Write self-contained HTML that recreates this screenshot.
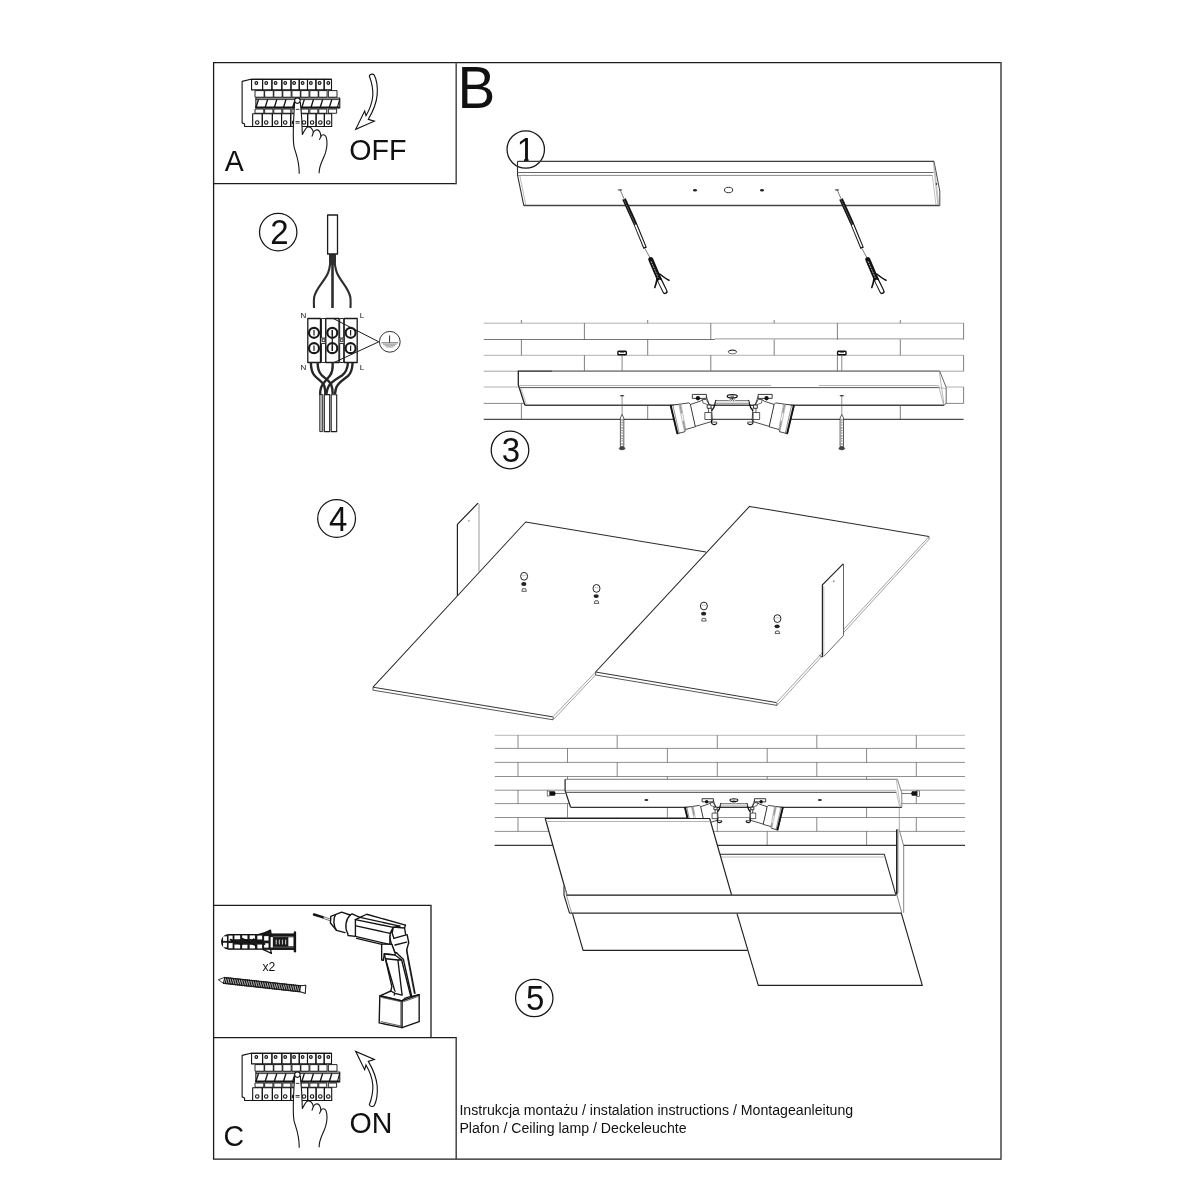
<!DOCTYPE html>
<html lang="pl"><head><meta charset="utf-8"><title>Instrukcja montażu</title>
<style>
html,body{margin:0;padding:0;background:#fff;}
body{width:1200px;height:1200px;overflow:hidden;font-family:"Liberation Sans",sans-serif;}
svg{display:block;position:absolute;left:0;top:0;will-change:transform;}
svg text{font-family:"Liberation Sans",sans-serif;fill:#111;}
#spotL *{vector-effect:non-scaling-stroke;}
</style></head><body>
<svg width="1200" height="1200" viewBox="0 0 1200 1200">
<!-- 00_frame.svg -->
<g id="frame" fill="none" stroke="#1c1c1c" stroke-width="1.3">
<path d="M1001 62.6H213.6V1159.2H1001"/>
<path d="M1001 62V1159.8" stroke="#505050" stroke-width="1.6"/>
<path d="M213.6 183.7H456.2"/>
<path d="M456.2 62.6V184.3" stroke="#555" stroke-width="1.6"/>
<path d="M213.6 905.3H431V1037.7"/>
<path d="M213.6 1037.7H456.2"/>
<path d="M456.2 1037.1V1159.2" stroke="#444" stroke-width="1.5"/>
</g>
<g id="labels">
<text transform="translate(457.6 108) scale(1 1.04)" font-size="56.6">B</text>
<text transform="translate(224.7 171.2) scale(1 1.04)" font-size="28.5">A</text>
<text transform="translate(349.3 159.5) scale(1 1.06)" font-size="28.6">OFF</text>
<text transform="translate(223.4 1146) scale(1 1.04)" font-size="28.5">C</text>
<text transform="translate(349.6 1132.7) scale(1 1.06)" font-size="28.6">ON</text>
<text transform="translate(262.4 970.5) scale(1 1.04)" font-size="12.2">x2</text>
<text transform="translate(459.4 1114.7) scale(1 1.02)" font-size="14.15">Instrukcja montażu / instalation instructions / Montageanleitung</text>
<text transform="translate(459.4 1133.3) scale(1 1.02)" font-size="14.15">Plafon / Ceiling lamp / Deckeleuchte</text>
</g>
<g id="steps" fill="none" stroke="#161616" stroke-width="1.25">
<circle cx="525.75" cy="149.5" r="18.7"/>
<circle cx="278.2" cy="232.1" r="18.7"/>
<circle cx="510" cy="450" r="18.8"/>
<circle cx="336.6" cy="518.5" r="18.9"/>
<circle cx="534.25" cy="998" r="18.7"/>
</g>
<g id="stepnums" font-size="33" text-anchor="middle">
<clipPath id="c1"><path d="M500 120H550V157.9H528.6V166H524V157.9H500Z"/></clipPath><g clip-path="url(#c1)"><text transform="translate(525.9 161.6) scale(1 1.04)">1</text></g>
<text transform="translate(279.5 243.75) scale(1 1.04)">2</text>
<text transform="translate(511 462.4) scale(1 1.04)">3</text>
<text transform="translate(338.25 530.5) scale(1 1.04)">4</text>
<text transform="translate(535.25 1010.2) scale(1 1.04)">5</text>
</g>

<!-- 10_breaker.svg -->
<defs><g id="brk" transform="translate(238 72) scale(0.09167)" fill="none" stroke="#141414" stroke-width="12" stroke-linejoin="round" stroke-linecap="round">
<path d="M140 80L45 102V555L72 567V595H1022M140 80H1020" />
<rect x="148" y="80" width="120" height="115"/>
<rect x="268" y="80" width="102" height="115"/>
<rect x="370" y="80" width="108" height="115"/>
<rect x="478" y="80" width="100" height="115"/>
<rect x="578" y="80" width="90" height="115"/>
<rect x="668" y="80" width="90" height="115"/>
<rect x="758" y="80" width="92" height="115"/>
<rect x="850" y="80" width="90" height="115"/>
<rect x="940" y="80" width="80" height="115"/>
<circle cx="200" cy="120" r="15"/>
<circle cx="308" cy="120" r="15"/>
<circle cx="410" cy="120" r="15"/>
<circle cx="515" cy="120" r="15"/>
<circle cx="612" cy="120" r="15"/>
<circle cx="705" cy="120" r="15"/>
<circle cx="795" cy="120" r="15"/>
<circle cx="890" cy="120" r="15"/>
<circle cx="985" cy="120" r="15"/>
<rect x="190" y="203" width="95" height="72" stroke-width="10"/>
<rect x="295" y="203" width="90" height="72" stroke-width="10"/>
<rect x="395" y="203" width="87" height="72" stroke-width="10"/>
<rect x="493" y="203" width="87" height="72" stroke-width="10"/>
<rect x="593" y="203" width="87" height="72" stroke-width="10"/>
<rect x="690" y="203" width="85" height="72" stroke-width="10"/>
<rect x="788" y="203" width="87" height="72" stroke-width="10"/>
<rect x="885" y="203" width="87" height="72" stroke-width="10"/>
<rect x="990" y="203" width="90" height="72" stroke-width="10"/>
<path d="M195 283H1110V392H195Z" fill="#fff"/>
<path d="M200 301H1108" stroke-width="9"/>
<path d="M195 386H1100" stroke-width="17"/>
<path d="M222 304L197 384" stroke-width="15"/>
<path d="M322 304L297 384" stroke-width="15"/>
<path d="M422 304L397 384" stroke-width="15"/>
<path d="M522 304L497 384" stroke-width="15"/>
<path d="M622 304L597 384" stroke-width="15"/>
<path d="M722 304L697 384" stroke-width="15"/>
<path d="M822 304L797 384" stroke-width="15"/>
<path d="M922 304L897 384" stroke-width="15"/>
<path d="M1022 304L997 384" stroke-width="15"/>
<path d="M1108 304L1085 384" stroke-width="12"/>
<rect x="190" y="404" width="91" height="46" stroke-width="10"/>
<rect x="295" y="404" width="86" height="46" stroke-width="10"/>
<rect x="395" y="404" width="83" height="46" stroke-width="10"/>
<rect x="493" y="404" width="83" height="46" stroke-width="10"/>
<rect x="593" y="404" width="83" height="46" stroke-width="10"/>
<rect x="690" y="404" width="81" height="46" stroke-width="10"/>
<rect x="788" y="404" width="83" height="46" stroke-width="10"/>
<rect x="885" y="404" width="83" height="46" stroke-width="10"/>
<rect x="990" y="404" width="86" height="46" stroke-width="10"/>
<rect x="160" y="455" width="105" height="140"/>
<rect x="265" y="455" width="110" height="140"/>
<rect x="375" y="455" width="100" height="140"/>
<rect x="475" y="455" width="100" height="140"/>
<rect x="575" y="455" width="93" height="140"/>
<rect x="668" y="455" width="92" height="140"/>
<rect x="760" y="455" width="92" height="140"/>
<rect x="852" y="455" width="90" height="140"/>
<rect x="942" y="455" width="80" height="140"/>
<circle cx="210" cy="550" r="19"/>
<circle cx="308" cy="550" r="19"/>
<circle cx="418" cy="550" r="19"/>
<circle cx="515" cy="550" r="19"/>
<circle cx="612" cy="550" r="19"/>
<circle cx="720" cy="550" r="19"/>
<circle cx="808" cy="550" r="19"/>
<circle cx="898" cy="550" r="19"/>
<circle cx="985" cy="550" r="19"/>
<path d="M618 330C612 420 606 520 604 620C602 700 600 760 612 820C630 890 668 960 668 1105L885 1100C885 1010 930 960 955 880C972 820 972 740 960 705C945 675 915 680 905 700C900 650 880 625 850 632C835 636 828 648 822 660C815 620 790 592 760 600C740 606 725 640 702 682C700 560 692 440 680 330Z" fill="#fff" stroke="none"/>
<path d="M618 330C612 420 606 520 604 620C602 700 600 760 612 820C630 890 668 960 668 1105"/>
<path d="M885 1100C885 1010 930 960 955 880C972 820 972 740 960 705C945 675 915 680 905 700L890 735"/>
<path d="M905 700C900 650 880 625 850 632C835 636 828 648 822 660L808 700"/>
<path d="M822 660C815 620 790 592 760 600C740 606 725 640 702 682C700 560 692 440 680 330"/>
<circle cx="648" cy="312" r="30" fill="#fff"/>
<path d="M635 408H665M632 540H668M632 558H668" stroke-width="9"/>
</g></defs>
<use href="#brk"/>
<use href="#brk" y="974"/>
<!-- 11_arrows.svg -->
<defs><path id="arw" d="M440 150C470 230 500 330 492 450C480 570 440 660 390 745L370 675L235 950L515 828L425 800C490 690 545 580 558 430C565 320 545 200 515 140C500 115 450 115 440 150Z"/></defs>
<g fill="none" stroke="#141414" stroke-width="17" stroke-linejoin="miter">
<use href="#arw" transform="translate(340 66) scale(.066667)"/>
<use href="#arw" transform="translate(340 1114.7) scale(.066667 -.066667)"/>
</g>

<!-- 20_step1.svg -->
<g id="step1" fill="none">
<!-- bar -->
<path d="M517.5 161.4H934" stroke="#3a3a3a" stroke-width="1.1"/>
<path d="M517.5 161.4V175L523.8 205.5" stroke="#2a2a2a" stroke-width="1.1"/>
<path d="M517.5 172.5H933.5" stroke="#666" stroke-width="1"/>
<path d="M518 175.4H932.5" stroke="#8a8a8a" stroke-width="1"/>
<path d="M519.8 175.6L525.8 205" stroke="#999" stroke-width=".7"/>
<path d="M523.6 205.4H939.8" stroke="#444" stroke-width="1.5"/>
<path d="M934 161.4L939.8 191V205.5" stroke="#444" stroke-width="1"/>
<path d="M933.3 162L937.8 205M932.3 175.5L936 205M934 163L938.8 205" stroke="#999" stroke-width=".6"/>
<circle cx="936.5" cy="184" r=".9" fill="#444"/>
<ellipse cx="695" cy="190.2" rx="2" ry="1.3" fill="#222"/>
<ellipse cx="762" cy="190.2" rx="2" ry="1.3" fill="#222"/>
<ellipse cx="728.6" cy="190" rx="4.1" ry="2.7" stroke="#333" stroke-width="1"/>
</g>
<defs>
<g id="scr1" transform="scale(.1)" stroke-linecap="round" stroke-linejoin="round">
<ellipse cx="150" cy="98" rx="24" ry="9" fill="#777" stroke="none"/>
<path d="M152 100L188 182" stroke="#222" stroke-width="6" fill="none"/>
<path d="M190 190L300 432" stroke="#111" stroke-width="38" stroke-linecap="butt" fill="none"/>
<path d="M186 188L296 428" stroke="#bbb" stroke-width="5" stroke-dasharray="10 14" fill="none"/>
<path d="M300 432L402 682" stroke="#111" stroke-width="36" stroke-linecap="butt" fill="none"/>
<path d="M304 446L397 670" stroke="#fff" stroke-width="16" stroke-linecap="butt" fill="none"/>
<path d="M402 690L452 782" stroke="#222" stroke-width="6" fill="none"/>
<path d="M458 795L545 1000" stroke="#111" stroke-width="50" stroke-linecap="round" fill="none"/>
<path d="M462 815L540 995" stroke="#ccc" stroke-width="8" stroke-dasharray="12 16" fill="none"/>
<path d="M545 1000L600 1115" stroke="#111" stroke-width="52" stroke-linecap="round" fill="none"/>
<path d="M548 1012L598 1112" stroke="#fff" stroke-width="30" stroke-linecap="round" fill="none"/>
<path d="M548 940C585 970 610 990 640 1002" stroke="#111" stroke-width="16" fill="none"/>
<path d="M520 990C515 1020 508 1050 498 1075" stroke="#111" stroke-width="16" fill="none"/>
</g>
</defs>
<use href="#scr1" x="605" y="180"/>
<use href="#scr1" x="822" y="180"/>

<!-- 25_step2.svg -->
<g id="step2" fill="none" stroke-linecap="butt" stroke-linejoin="round">
<path d="M330.8 254C330.6 262 330.2 268 328 273C324 282 316 288 314.2 297C313.6 301 314 305 314 308" stroke="#2e2e2e" stroke-width="2.1"/>
<path d="M334.2 254C334.4 262 334.8 268 337 273C341 282 348.5 288 350.3 297C350.9 301 350.5 305 350.5 308" stroke="#2e2e2e" stroke-width="2.1"/>
<path d="M332.5 254V308" stroke="#2e2e2e" stroke-width="2.6"/>
<path d="M329 254.5H336V262C335 266 330 266 329 262Z" fill="#2e2e2e" stroke="none"/>
<rect x="327.6" y="215" width="9.9" height="39" fill="#fff" stroke="#1c1c1c" stroke-width="1.3"/>
<g transform="translate(290 305) scale(.1)" stroke="#1a1a1a" stroke-width="13">
<rect x="315" y="135" width="40" height="195" stroke-width="9"/>
<rect x="315" y="385" width="40" height="190" stroke-width="9"/>
<rect x="321" y="340" width="28" height="26" stroke-width="9"/>
<rect x="497" y="135" width="40" height="195" stroke-width="9"/>
<rect x="497" y="385" width="40" height="190" stroke-width="9"/>
<rect x="503" y="340" width="28" height="26" stroke-width="9"/>
<rect x="178" y="135" width="127" height="440" fill="#fff"/>
<rect x="358" y="135" width="132" height="440" fill="#fff"/>
<rect x="542" y="135" width="130" height="440" fill="#fff"/>
<circle cx="240" cy="278" r="50" stroke-width="22"/>
<path d="M240 250V306" stroke-width="12"/>
<circle cx="240" cy="432" r="50" stroke-width="22"/>
<path d="M240 404V460" stroke-width="12"/>
<circle cx="423" cy="278" r="50" stroke-width="22"/>
<path d="M423 250V306" stroke-width="12"/>
<circle cx="423" cy="432" r="50" stroke-width="22"/>
<path d="M423 404V460" stroke-width="12"/>
<circle cx="606" cy="278" r="50" stroke-width="22"/>
<path d="M606 250V306" stroke-width="12"/>
<circle cx="606" cy="432" r="50" stroke-width="22"/>
<path d="M606 404V460" stroke-width="12"/>
<path d="M423 250V460" stroke-width="12"/>
<path d="M432 135L888 368L440 575" stroke-width="10"/>
<circle cx="998" cy="368" r="104" stroke-width="9" fill="#fff"/>
<path d="M996 305V376" stroke-width="9"/>
<path d="M915 378H1080" stroke="#444" stroke-width="8"/>
<path d="M930 393H1065M945 407H1050M962 420H1034" stroke="#777" stroke-width="7"/>
</g>
<path d="M310.9 362.5C310.9 368 311.5 372 314.5 375.5C318 379.5 322.5 381.5 324.3 386C325.3 389 325.4 392 325.4 394.5" stroke="#262626" stroke-width="2.4"/>
<path d="M317.6 362.5C317.6 368 318.5 372 321.5 375C325 378.5 329.5 380.5 331.3 385C332.5 388 332.7 391 332.7 394" stroke="#262626" stroke-width="2.4"/>
<path d="M332.6 362.5C333 368 332.5 372 330 375.5C327 379.5 322.5 383 320.9 388C320.2 390.5 320.1 392.5 320.1 395" stroke="#262626" stroke-width="2.4"/>
<path d="M348 362.5C347.6 368 346 372.5 342 375.5C337 379 331 381.5 328.5 386.5C327 389.5 326.6 392 326.4 394" stroke="#262626" stroke-width="2.4"/>
<path d="M352.6 362.5C352.4 368 351.5 373 348 376C343 380 338.5 382.5 336.5 387C335.5 389.5 335.2 392 335 394" stroke="#262626" stroke-width="2.4"/>
<rect x="319.8" y="394.6" width="2.9" height="37" fill="#fff" stroke="#222" stroke-width="1"/>
<path d="M321 395V431.5M322 395V431.5" stroke="#666" stroke-width=".6"/>
<rect x="324.3" y="394.6" width="5.4" height="37" fill="#fff" stroke="#1c1c1c" stroke-width="1.1"/>
<rect x="331.2" y="394.8" width="5.5" height="36.8" fill="#fff" stroke="#1c1c1c" stroke-width="1.1"/>
</g>
<g font-size="8">
<text x="300.4" y="317.8">N</text><text x="359.7" y="317.8">L</text><text x="300.4" y="370.4">N</text><text x="359.7" y="370.4">L</text>
</g>
<!-- 30_step3.svg -->
<g id="bricks3" fill="none" stroke="#8c8c8c" stroke-width=".9">
<path d="M483.7 323.2H963.6" stroke="#a8a8a8"/>
<path d="M483.7 339.5H715" stroke="#666"/><path d="M715 338.9H963.6"/>
<path d="M483.7 355.3H963.6" stroke="#a8a8a8"/>
<path d="M483.7 371.2H963.6" stroke="#9a9a9a"/>
<path d="M483.7 387.0H963.6" stroke="#a8a8a8"/>
<path d="M483.7 403.4H963.6" stroke="#7a7a7a"/>
<path d="M483.7 419.3H963.6" stroke="#4a4a4a" stroke-width="1.3"/>
<path d="M521.4 320V323.2M521.4 339.5V355.3M521.4 403.4V419.3M647.7 320V323.2M647.7 339.5V355.3M647.7 403.4V419.3M774.2 320V323.2M774.2 339.5V355.3M774.2 403.4V419.3M900.3 320V323.2M900.3 339.5V355.3M900.3 403.4V419.3M584.4 323.2V339.5M584.4 355.3V371.2M710.8 323.2V339.5M710.8 355.3V371.2M837.4 323.2V339.5M837.4 355.3V371.2M963.6 323.2V339.5M963.6 355.3V371.2M963.6 387.0V403.4" stroke="#484848" stroke-width=".7"/>
</g>
<g id="bar3" fill="none">
<path d="M518.3 371.1H939.6L946.2 387.4V403L944.2 405.3H524.9L518.3 384.7Z" fill="#fff" stroke="none"/>
<path d="M552 371.1H939.6" stroke="#6a6a6a" stroke-width="1.1"/>
<path d="M552 371.1H518.3V384.7L524.9 405.3" stroke="#222" stroke-width="1.3" stroke-linejoin="round"/>
<path d="M519.5 385.5H771M818.6 385.5H938.7" stroke="#b5b5b5" stroke-width="1"/>
<path d="M519 387.6H938.7" stroke="#555" stroke-width="1"/>
<path d="M521 388L526.5 404.5" stroke="#aaa" stroke-width=".7"/>
<path d="M524.9 405.2H944.2" stroke="#444" stroke-width="1.5"/>
<path d="M939.6 371L946.2 387.4V403L944.2 405.3" stroke="#555" stroke-width=".9"/>
<path d="M939.3 371.5L944 405M938.7 386L943.5 404.5M938.7 387.6L946 388.5" stroke="#888" stroke-width=".6"/>
</g>
<rect x="617.9" y="351.3" width="8.4" height="3.4" rx=".8" fill="#fff" stroke="#111" stroke-width="1.4"/>
<path d="M619.9 352.6h4.5" stroke="#333" stroke-width=".7"/>
<path d="M622.1 354.8V370.6" stroke="#555" stroke-width=".7"/>
<ellipse cx="622.1" cy="395.7" rx="2.3" ry=".8" fill="#333"/>
<path d="M622.1 396.4V415" stroke="#666" stroke-width=".7"/>
<path d="M622.1 414.5L623.8 418V446.6H620.4V418Z" fill="#fff" stroke="#333" stroke-width=".8"/>
<path d="M622.1 419V446" stroke="#777" stroke-width="1.6" stroke-dasharray=".7 .9"/>
<ellipse cx="622.1" cy="448.4" rx="2.9" ry="1.4" fill="#444" stroke="#222" stroke-width=".6"/>
<rect x="837.6" y="351.3" width="8.4" height="3.4" rx=".8" fill="#fff" stroke="#111" stroke-width="1.4"/>
<path d="M839.6 352.6h4.5" stroke="#333" stroke-width=".7"/>
<path d="M841.8 354.8V370.6" stroke="#555" stroke-width=".7"/>
<ellipse cx="841.8" cy="395.7" rx="2.3" ry=".8" fill="#333"/>
<path d="M841.8 396.4V415" stroke="#666" stroke-width=".7"/>
<path d="M841.8 414.5L843.5 418V446.6H840.1V418Z" fill="#fff" stroke="#333" stroke-width=".8"/>
<path d="M841.8 419V446" stroke="#777" stroke-width="1.6" stroke-dasharray=".7 .9"/>
<ellipse cx="841.8" cy="448.4" rx="2.9" ry="1.4" fill="#444" stroke="#222" stroke-width=".6"/>
<ellipse cx="732.4" cy="351.9" rx="4.3" ry="1.9" fill="none" stroke="#666" stroke-width=".9"/>
<path d="M728.3 351.5A4.3 1.9 0 0 1 736.5 351.5" fill="none" stroke="#333" stroke-width="1"/>
<!-- 31_spots.svg -->
<defs>
<g id="spotL" transform="translate(665 388) scale(.058333)" stroke="#1c1c1c" stroke-width="0.80" fill="none" stroke-linejoin="round" stroke-linecap="round">
<path d="M435 282L600 228L640 202L705 192L760 290L800 360L812 560L790 578L520 658Z" fill="#fff"/>
<path d="M95 300L410 255L435 282L520 665L350 712L340 750L210 782Z" fill="#fff"/>
<path d="M100 302L214 780" stroke-width="1.71" stroke="#111"/>
<path d="M136 298L242 773" stroke-width="0.49"/>
<path d="M238 292L336 752M276 285L356 712" stroke="#666" stroke-width="0.43"/>
<path d="M257 289L346 732" stroke="#999" stroke-width="1.47" stroke-dasharray="8 9"/>
<rect x="475" y="110" width="235" height="68" fill="#fff" stroke-width="0.86"/>
<circle cx="565" cy="176" r="37" fill="#111" stroke="none"/>
<path d="M640 202L652 258L700 274L738 292" stroke-width="0.67"/>
<path d="M710 150L762 292M747 350V420" stroke-width="0.73"/>
<rect x="730" y="292" width="58" height="56" fill="#fff" stroke-width="0.86"/>
<rect x="690" y="420" width="105" height="120" fill="#fff" stroke-width="0.73"/>
<path d="M872 215C848 270 866 330 802 384" stroke-width="1.29" stroke="#111"/>
<path d="M872 215H1095L1125 198" stroke="#444" stroke-width="0.7"/><path d="M862 265H1152" stroke="#777" stroke-width="0.7"/><path d="M880 240H1150" stroke="#ddd" stroke-width="1.4"/>
<path d="M798 545V598C806 634 880 640 888 600" stroke-width="1.16" stroke="#111"/>
<path d="M812 585H888" stroke-width="0.73"/>
</g>
<g id="spots">
<use href="#spotL"/>
<use href="#spotL" transform="translate(1464.5 0) scale(-1 1)"/>
<ellipse cx="732.25" cy="396.3" rx="5" ry="1.7" fill="#fff" stroke="#151515" stroke-width="1.3"/>
<path d="M730.5 396.3h3.5" stroke="#333" stroke-width=".8"/>
<path d="M732.25 398V399.4L730.6 401.2M732.25 399.4L733.9 401.2" fill="none" stroke="#1c1c1c" stroke-width=".8"/>
</g>
</defs>
<use href="#spots"/>

<!-- 40_step4.svg -->
<g id="step4" fill="none" stroke-linejoin="round">
<path d="M457.4 524.3L478 503.2L479 504.2V572L457.4 596Z" fill="#fff" stroke="none"/>
<path d="M457.4 596V524.3L478 503.2" stroke="#222" stroke-width="1.2"/>
<path d="M478 503.2L479 504.2V571.5" stroke="#999" stroke-width="1"/>
<ellipse cx="468.9" cy="520.7" rx=".7" ry="1" fill="#888"/>
<path d="M525.7 522L705.4 552L595.3 672.4L553 719.8L373 690.2V687.2Z" fill="#fff" stroke="none"/>
<path d="M373 687.2L525.7 522L706 552.1" stroke="#2a2a2a" stroke-width="1.05"/>
<path d="M373 687.2L552.9 716.9" stroke="#333" stroke-width="1"/>
<path d="M373 687.2V690.2L553 719.8L553.3 717" stroke="#444" stroke-width=".9"/>
<path d="M552.9 716.9L595.1 672.5M553.6 719.4L596 674.5" stroke="#8a8a8a" stroke-width=".8"/>
<path d="M749.5 506.4L929 536.5L928.8 539.6L777 705.4L595.6 675V672Z" fill="#fff" stroke="none"/>
<path d="M595.6 672L749.5 506.4L929 536.5" stroke="#2a2a2a" stroke-width="1.05"/>
<path d="M595.6 672L776.5 702.6" stroke="#333" stroke-width="1"/>
<path d="M595.6 672V675L777 705.4L777 703" stroke="#444" stroke-width=".9"/>
<path d="M929 536.5L776.5 702.6M928.8 539.6L777.3 705" stroke="#8a8a8a" stroke-width=".8"/>
<path d="M929 536.5V539.5" stroke="#555" stroke-width=".8"/>
<path d="M822.3 584.8L843.5 563.8V635.6L823.8 656.6H822.3Z" fill="#fff" stroke="none"/>
<path d="M822.4 657V584.8L843.2 563.9" stroke="#222" stroke-width="1.2"/>
<path d="M843.5 563.8V635.6L823.8 656.4" stroke="#555" stroke-width=".9"/>
<path d="M823.8 586V656.4" stroke="#999" stroke-width=".7"/>
<ellipse cx="833.8" cy="581.3" rx=".7" ry="1" fill="#777"/>
<path d="M819.5 655.5L822.3 657.2" stroke="#555" stroke-width="1"/>
<ellipse cx="524.1" cy="576.3" rx="3.5" ry="3.9" fill="#fff" stroke="#222" stroke-width="1"/>
<path d="M522.0 576.0q2.2 -1.6 4.2 0" stroke="#999" stroke-width=".6"/>
<ellipse cx="523.8" cy="584.0" rx="2.6" ry="1.9" fill="#222"/>
<path d="M521.8 591.3l.8 -2.6h3l.8 2.6z" fill="#fff" stroke="#333" stroke-width=".8"/>
<ellipse cx="596.5" cy="588.4" rx="3.5" ry="3.9" fill="#fff" stroke="#222" stroke-width="1"/>
<path d="M594.4 588.1q2.2 -1.6 4.2 0" stroke="#999" stroke-width=".6"/>
<ellipse cx="596.2" cy="596.1" rx="2.6" ry="1.9" fill="#222"/>
<path d="M594.2 603.4l.8 -2.6h3l.8 2.6z" fill="#fff" stroke="#333" stroke-width=".8"/>
<ellipse cx="703.9" cy="606.0" rx="3.5" ry="3.9" fill="#fff" stroke="#222" stroke-width="1"/>
<path d="M701.8 605.7q2.2 -1.6 4.2 0" stroke="#999" stroke-width=".6"/>
<ellipse cx="703.6" cy="613.7" rx="2.6" ry="1.9" fill="#222"/>
<path d="M701.6 621.0l.8 -2.6h3l.8 2.6z" fill="#fff" stroke="#333" stroke-width=".8"/>
<ellipse cx="777.4" cy="618.6" rx="3.5" ry="3.9" fill="#fff" stroke="#222" stroke-width="1"/>
<path d="M775.3 618.3q2.2 -1.6 4.2 0" stroke="#999" stroke-width=".6"/>
<ellipse cx="777.1" cy="626.3" rx="2.6" ry="1.9" fill="#222"/>
<path d="M775.1 633.6l.8 -2.6h3l.8 2.6z" fill="#fff" stroke="#333" stroke-width=".8"/>
</g>
<!-- 50_step5.svg -->
<g id="bricks5" fill="none" stroke="#858585" stroke-width=".9">
<path d="M494.7 735.3H965.0" stroke="#b0b0b0"/>
<path d="M494.7 748.4H965.0"/>
<path d="M494.7 762.4H965.0"/>
<path d="M494.7 776.5H965.0"/>
<path d="M494.7 790.2H965.0"/>
<path d="M494.7 803.6H965.0"/>
<path d="M494.7 817.5H965.0"/>
<path d="M494.7 831.4H965.0"/>
<path d="M494.7 845.3H965.0" stroke="#3a3a3a" stroke-width="1.2"/>
<path d="M518.0 735.3V748.4M518.0 762.4V776.5M518.0 790.2V803.6M518.0 817.5V831.4M617.2 735.3V748.4M617.2 762.4V776.5M617.2 790.2V803.6M617.2 817.5V831.4M717.3 735.3V748.4M717.3 762.4V776.5M717.3 790.2V803.6M717.3 817.5V831.4M816.8 735.3V748.4M816.8 762.4V776.5M816.8 790.2V803.6M816.8 817.5V831.4M916.3 735.3V748.4M916.3 762.4V776.5M916.3 790.2V803.6M916.3 817.5V831.4M567.5 748.4V762.4M567.5 776.5V790.2M567.5 803.6V817.5M567.5 831.4V845.3M667.4 748.4V762.4M667.4 776.5V790.2M667.4 803.6V817.5M667.4 831.4V845.3M767.2 748.4V762.4M767.2 776.5V790.2M767.2 803.6V817.5M767.2 831.4V845.3M866.6 748.4V762.4M866.6 776.5V790.2M866.6 803.6V817.5M866.6 831.4V845.3" stroke="#484848" stroke-width=".65"/>
</g>
<g id="bar5" fill="none">
<path d="M565.1 779.3H897.4L901.8 793V806.6L900.8 807.4H570.6L565.1 790.5Z" fill="#fff" stroke="none"/>
<path d="M565.1 779.3H897.4" stroke="#6a6a6a" stroke-width=".9"/>
<path d="M565.1 779.3V790.5L570.6 807.3" stroke="#222" stroke-width="1.2" stroke-linejoin="round"/>
<path d="M566 790.3H896.2" stroke="#aaa" stroke-width=".9"/>
<path d="M566 792.3H896.2" stroke="#444" stroke-width="1"/>
<path d="M570.6 807.3H901.8" stroke="#333" stroke-width="1.3"/>
<path d="M897.4 779.5L901.8 793V807" stroke="#666" stroke-width=".8"/>
<path d="M896.3 780L900.5 807M896.2 791.5L899.5 806.5" stroke="#999" stroke-width=".6"/>
<ellipse cx="646.4" cy="800" rx="2" ry="1" fill="#222"/>
<ellipse cx="819.9" cy="800" rx="2" ry="1" fill="#222"/>
<path d="M555.4 793.5H565" stroke="#555" stroke-width=".8"/>
<path d="M549.5 791.2h5.2l1 2.3l-1 2.3h-5.2z" fill="#111"/>
<rect x="547.2" y="791" width="2.3" height="5" fill="#fff" stroke="#444" stroke-width=".7"/>
<path d="M901.8 793.5H911.4" stroke="#555" stroke-width=".8"/>
<path d="M917.2 791.2h-5.2l-1 2.3l1 2.3h5.2z" fill="#111"/>
<rect x="917.2" y="790.8" width="2.3" height="5.6" fill="#fff" stroke="#444" stroke-width=".7"/>
<path d="M899.3 807.4V829.6" stroke="#888" stroke-width=".7"/>
</g>
<use href="#spots" transform="translate(733.9 800.2) scale(.794) translate(-732.25 -396.3)"/>
<g id="panels5" fill="none" stroke-linejoin="round">
<path d="M719 854.3H884.3L895.8 894.6H731Z" fill="#fff" stroke="none"/>
<path d="M720 854.3H884.3L895.8 894.6" stroke="#2a2a2a" stroke-width="1.1"/>
<path d="M721 857H885" stroke="#aaa" stroke-width=".8"/>
<path d="M545.25 818.5L709.7 818.7L731.7 895.3H566.9Z" fill="#fff" stroke="none"/>
<path d="M566.9 895L545.25 818.5H709.7L731.7 895.3" stroke="#222" stroke-width="1.2"/>
<path d="M546.3 821.5H710.4" stroke="#aaa" stroke-width=".9"/>
<path d="M564 886.2V895L569.5 913.1H901.8L896.8 894.8H566.9Z" fill="#fff" stroke="none"/>
<path d="M566 895.2H896.4" stroke="#161616" stroke-width="1.3"/>
<path d="M564 886.2V895L569.5 913.1" stroke="#222" stroke-width="1.1"/>
<path d="M565 887L566.5 895.5L571.5 912.5" stroke="#777" stroke-width=".7"/>
<path d="M572.5 913.7L583.1 950.3H747.5L737 913.7Z" fill="#fff" stroke="none"/>
<path d="M572.5 913.7L583.1 950.3H747.5" stroke="#222" stroke-width="1.15"/>
<path d="M737 913.7L758.3 985.4H922.3L901.2 912.8Z" fill="#fff" stroke="none"/>
<path d="M737 913.7L758.3 985.4H922.3L901.2 912.8" stroke="#222" stroke-width="1.15"/>
<path d="M569.5 913.2H901.8" stroke="#2a2a2a" stroke-width="1.2"/>
<path d="M896.8 829.4L899.3 830.2L903.7 845.7V912.8H901.8L896.8 894.6Z" fill="#fff" stroke="none"/>
<path d="M896.8 829.4V894.6" stroke="#222" stroke-width="1.6"/>
<path d="M896.8 829.4L899.3 830.2L903.7 845.7V912.8M896.8 894.6L901.8 912.8" stroke="#666" stroke-width=".8"/>
<path d="M898.6 831V893" stroke="#999" stroke-width=".6"/>
</g>
<!-- 60_tools.svg -->
<g id="tools" transform="translate(215 920) scale(0.09167)" fill="none" stroke="#141414" stroke-width="11" stroke-linejoin="round" stroke-linecap="round">
<path d="M600 158H150C100 160 72 200 72 238C72 276 100 316 150 318H600Z" fill="#1a1a1a" stroke-width="12"/>
<rect x="88" y="178" width="42" height="50" fill="#fff" stroke="none"/>
<rect x="88" y="248" width="42" height="50" fill="#fff" stroke="none"/>
<rect x="148" y="170" width="44" height="56" fill="#fff" stroke="none"/>
<rect x="148" y="252" width="44" height="56" fill="#fff" stroke="none"/>
<rect x="212" y="168" width="62" height="42" fill="#fff" stroke="none"/>
<rect x="212" y="268" width="62" height="42" fill="#fff" stroke="none"/>
<rect x="296" y="168" width="58" height="40" fill="#fff" stroke="none"/>
<rect x="296" y="270" width="58" height="40" fill="#fff" stroke="none"/>
<rect x="378" y="168" width="58" height="40" fill="#fff" stroke="none"/>
<rect x="378" y="270" width="58" height="40" fill="#fff" stroke="none"/>
<rect x="462" y="170" width="52" height="42" fill="#fff" stroke="none"/>
<rect x="462" y="268" width="52" height="42" fill="#fff" stroke="none"/>
<rect x="536" y="176" width="48" height="48" fill="#fff" stroke="none"/>
<rect x="536" y="254" width="48" height="48" fill="#fff" stroke="none"/>
<path d="M170 215L290 265M300 205L430 270M420 210L540 262" stroke-width="20"/>
<path d="M470 160C520 150 570 130 605 110L612 150" stroke-width="14" fill="#1a1a1a"/>
<path d="M520 320C560 335 590 350 615 365L608 330" stroke-width="14"/>
<rect x="600" y="152" width="265" height="170" fill="#1a1a1a" stroke-width="10"/>
<rect x="607" y="186" width="24" height="114" fill="#fff" stroke="none"/>
<rect x="800" y="188" width="58" height="98" fill="#fff" stroke="none"/>
<path d="M640 182H858M640 296H858" stroke="#888" stroke-width="7"/>
<path d="M668 218V262M702 218V262M736 218V262M770 218V262" stroke="#bbb" stroke-width="13"/>
<path d="M872 136V342" stroke-width="26"/>
<path d="M40 650L100 628L935 718L990 712L985 800L930 782L95 690Z" fill="#fff" stroke-width="9"/>
<path d="M108 626L92 692M127 628L111 694M146 630L130 696M166 632L150 698M185 634L169 701M204 636L188 703M223 639L207 705M242 641L226 707M261 643L245 709M281 645L265 711M300 647L284 713M319 649L303 716M338 651L322 718M357 653L341 720M377 655L361 722M396 657L380 724M415 659L399 726M434 662L418 728M453 664L437 731M473 666L457 733M492 668L476 735M511 670L495 737M530 672L514 739M549 674L533 741M568 676L552 743M588 678L572 745M607 680L591 748M626 683L610 750M645 685L629 752M664 687L648 754M684 689L668 756M703 691L687 758M722 693L706 760M741 695L725 763M760 697L744 765M780 699L764 767M799 701L783 769M818 703L802 771M837 706L821 773M856 708L840 775M875 710L859 778M895 712L879 780M914 714L898 782M933 716L917 784" stroke-width="13"/>
<path d="M100 627L930 717M95 691L928 783" stroke-width="9"/>
<path d="M935 718L990 712L985 800L930 782Z" fill="#fff" stroke-width="10"/>
</g>
<!-- 61_drill.svg -->
<g id="drillU" transform="translate(310 908) scale(.083333)" fill="none" stroke="#141414" stroke-width="16.5" stroke-linejoin="round" stroke-linecap="round">
<path d="M48 78L150 110" stroke-width="30"/>
<path d="M150 100L245 132M150 122L240 152" stroke-width="7"/>
<!-- chuck -->
<path d="M250 100L380 50L500 72L545 140V340L455 330L420 295L318 268L245 180Z" fill="#fff" stroke="none"/>
<path d="M250 100L380 50L482 84M250 100L245 180L318 268L420 296"/>
<path d="M305 82C275 130 282 220 318 268"/>
<path d="M482 84C425 140 415 240 452 306"/>
<path d="M482 84L505 70L598 112M452 306L456 330L545 340"/>
<!-- body -->
<path d="M545 140L680 75L1145 205L1135 235L985 300L960 440L545 340Z" fill="#fff" stroke="none"/>
<path d="M545 140V340"/>
<path d="M545 140L600 112L680 75L1145 205"/>
<path d="M600 112L1078 218"/>
<path d="M545 140L1000 232"/>
<path d="M552 215L962 305"/>
<path d="M545 340L958 438"/>
<path d="M560 365L862 436"/>
<path d="M1000 230L1135 240L1150 332L1010 372L985 300Z" fill="#fff" stroke="none"/><path d="M1000 230L1078 217M1145 205L1135 240L1000 230L962 305L958 438M1000 230L985 300L1010 372M1135 240L1150 332"/>
</g>
<g id="drillL" transform="translate(370 935) scale(.083333)" fill="none" stroke="#141414" stroke-width="16.5" stroke-linejoin="round" stroke-linecap="round">
<!-- back of head / rear -->
<path d="M240 10L285 40L445 -10L470 90L440 180L300 120L262 110Z" fill="#fff" stroke="none"/>
<path d="M285 40L445 -5M300 120L440 85M445 -5L465 90L440 180"/>
<path d="M240 10C232 50 250 100 300 210L320 215"/>
<!-- trigger guard / front -->
<path d="M140 110L262 112L300 215L170 225L160 305L140 300Z" fill="#fff" stroke="none"/>
<path d="M140 110V300L160 305L172 225L300 240L320 215"/>
<path d="M140 110L262 112L300 215"/>
<!-- handle -->
<path d="M172 225L260 620L300 680L500 740L540 700L440 180L320 215L300 240Z" fill="#fff" stroke="none"/>
<path d="M172 228L262 620L250 670"/>
<path d="M190 300L300 680"/>
<path d="M300 240L380 300L335 300L385 720"/>
<path d="M172 228L300 240M335 300L190 285"/>
<path d="M380 300L490 740"/>
<path d="M320 215L400 290L500 735"/>
<path d="M440 180L540 700"/>
<path d="M440 180L455 300L530 700" stroke-width="9"/>
<!-- battery -->
<path d="M118 730L270 668L300 680L385 720L500 740L590 715V1040L385 1112L110 1055Z" fill="#fff" stroke="none"/>
<path d="M118 730L110 1055L385 1112V790Z"/>
<path d="M385 790L590 715V1040L385 1112"/>
<path d="M118 730L250 672M118 730L385 790"/>
<path d="M140 750L370 800V1090M135 1040L372 1092" stroke-width="8"/>
<path d="M405 800L575 738" stroke-width="8"/>
<path d="M250 672L300 700L385 722M420 760L460 745L590 715M300 700L290 720M420 760L385 790"/>
</g>

</svg>
</body></html>
